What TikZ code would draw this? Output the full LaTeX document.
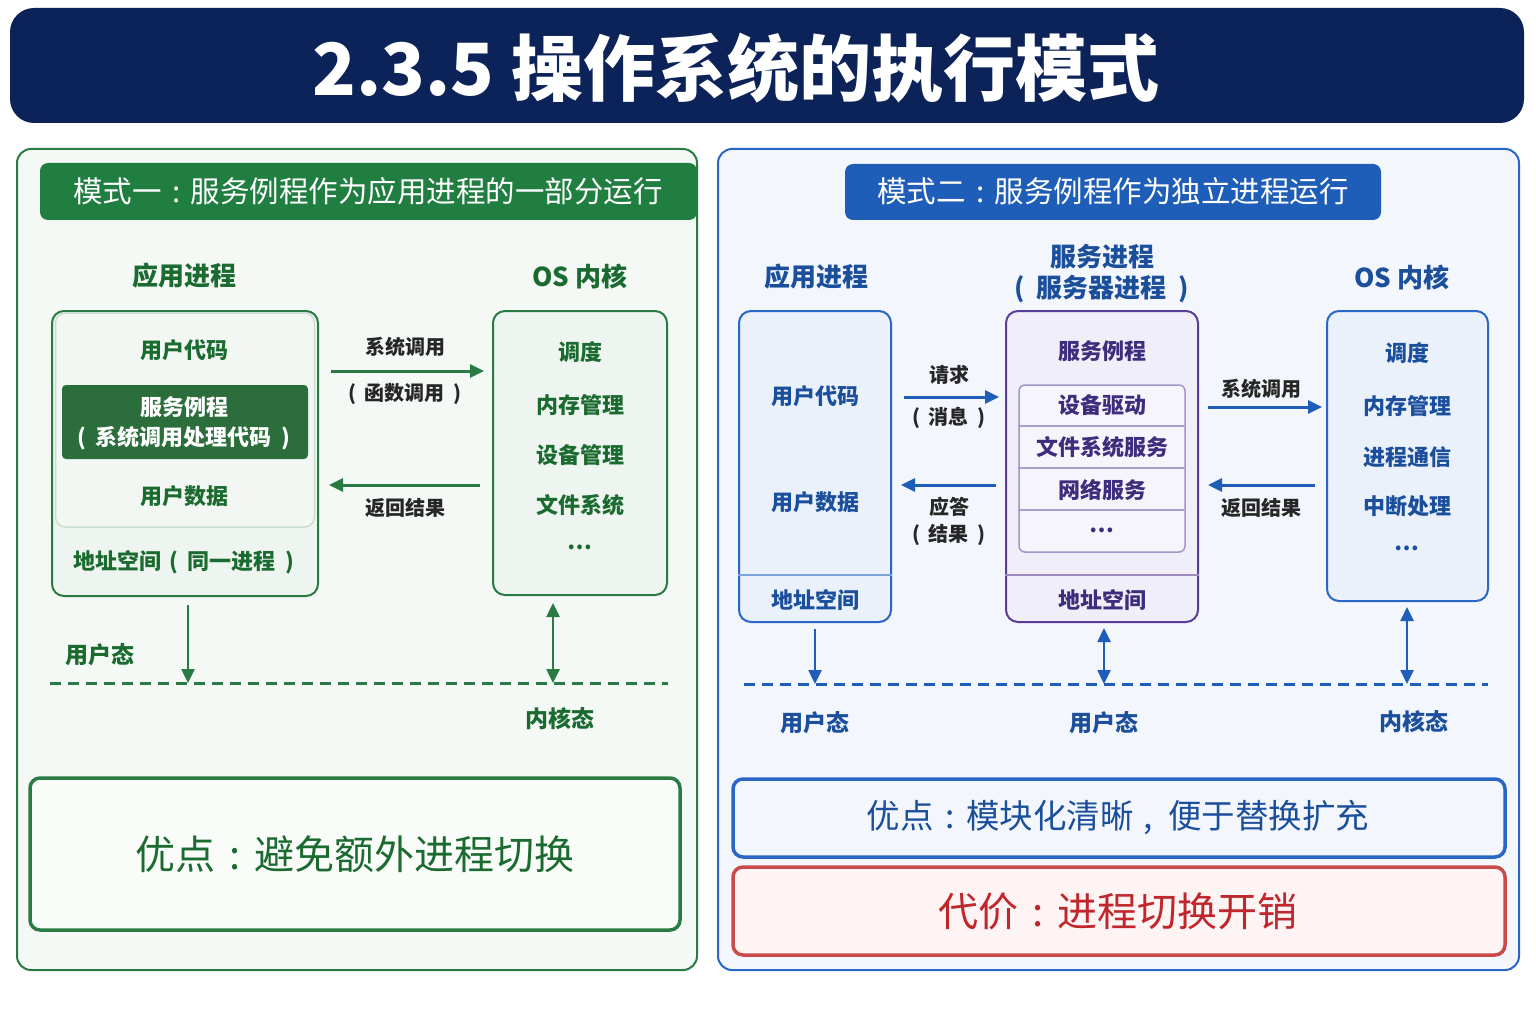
\documentclass[tikz,border=0pt]{standalone}
\usepackage{fontspec}
\setmainfont{Noto Sans CJK SC}
\usetikzlibrary{arrows.meta,calc}
\definecolor{navy}{HTML}{0B2358}
\definecolor{ghdr}{HTML}{1F7E40}
\definecolor{gtxt}{HTML}{1B6B30}
\definecolor{gbrd}{HTML}{2A7A43}
\definecolor{gdark}{HTML}{2B6E3B}
\definecolor{gfill}{HTML}{F4F9F6}
\definecolor{gbox}{HTML}{EEF5F0}
\definecolor{bbrd}{HTML}{2A66C5}
\definecolor{bhdr}{HTML}{1E5DB8}
\definecolor{btxt}{HTML}{1B4F9C}
\definecolor{bfill}{HTML}{F3F7FD}
\definecolor{bbox}{HTML}{EAF1FB}
\definecolor{pbrd}{HTML}{5A3C9A}
\definecolor{pfill}{HTML}{F0EEF8}
\definecolor{ptxt}{HTML}{3E2C7C}
\definecolor{rbrd}{HTML}{C84A4A}
\definecolor{rfill}{HTML}{FFF4F4}
\definecolor{rtxt}{HTML}{C0272D}
\newcommand\fsz[1]{\fontsize{#1}{#1}\selectfont}
\newcommand\cln{\hspace{0.35em}:\hspace{0.35em}}
\newcommand\cma{\hspace{0.3em},\hspace{0.45em}}
\newcommand\lpar{(\hspace{0.45em}}
\newcommand\rpar{\hspace{0.45em})}
\begin{document}
\begin{tikzpicture}[x=1pt,y=-1pt,
  panel/.style={rounded corners=14pt, line width=2pt},
  hdr/.style={rounded corners=8pt, text=white, inner sep=0pt},
  head/.style={font=\fsz{26}\bfseries, inner sep=0pt},
  item/.style={font=\fsz{22}\bfseries, inner sep=0pt},
  lbl/.style={font=\fsz{20}\bfseries, inner sep=0pt, text=black!85},
  boxs/.style={rounded corners=12pt, line width=2pt, inner sep=0pt},
  arr/.style={-{Triangle[length=14pt,width=13pt]}, line width=3pt},
  darr/.style={{Triangle[length=14pt,width=13pt]}-{Triangle[length=14pt,width=13pt]}, line width=2.5pt},
  dsh/.style={line width=3pt, dash pattern=on 11pt off 7pt},
  good/.style={rounded corners=10pt, line width=3.5pt, inner sep=0pt}]
\useasboundingbox (0,0) rectangle (1536,1024);
\fill[white] (0,0) rectangle (1536,1024);

% title
\node[fill=navy, rounded corners=24pt, minimum width=1514pt, minimum height=115pt, inner sep=0pt] (titlebar) at (767,65.5) {};
\node[text=white, font=\fsz{72}\bfseries, inner sep=0pt] (title) at (736,68) {2.3.5 操作系统的执行模式};

% ===== left panel =====
\node[panel, draw=gbrd, fill=gfill, minimum width=680pt, minimum height=821pt] (lp) at (357,559.5) {};
\node[hdr, fill=ghdr, minimum width=657pt, minimum height=57pt] (lh) at (368.5,191.5) {};
\node[text=white, font=\fsz{29.5}, inner sep=0pt] (lht) at (368,191) {模式一\cln 服务例程作为应用进程的一部分运行};

\node[head, text=gtxt] (lapp) at (184,276) {应用进程};
\node[head, text=gtxt] (los) at (580,276) {OS 内核};

\node[boxs, draw=gbrd, fill=gbox, minimum width=266pt, minimum height=285pt] (app1) at (185,453.5) {};
\node[rounded corners=10pt, draw=gbrd!25, line width=1.5pt, fill=gfill!60!gbox, minimum width=259pt, minimum height=214pt, inner sep=0pt] (app1u) at (185,420) {};
\node[item, text=gtxt] (ucode1) at (184,350) {用户代码};
\node[rounded corners=4pt, fill=gdark, minimum width=246pt, minimum height=74pt, inner sep=0pt] (svc1) at (185,422) {};
\node[item, text=white] (svc1a) at (184,407) {服务例程};
\node[item, text=white] (svc1b) at (184,438) {\lpar 系统调用处理代码\rpar};
\node[item, text=gtxt] (udata1) at (184,496) {用户数据};
\node[item, text=gtxt] (as1) at (184,562) {地址空间\hspace{0.35em}\lpar 同一进程\rpar};

\node[boxs, draw=gbrd, fill=gbox, minimum width=174pt, minimum height=284pt] (os1) at (580,453) {};
\node[item, text=gtxt] (o11) at (580,352) {调度};
\node[item, text=gtxt] (o12) at (580,405) {内存管理};
\node[item, text=gtxt] (o13) at (580,455) {设备管理};
\node[item, text=gtxt] (o14) at (580,505) {文件系统};
\node[item, text=gtxt] (o15) at (580,547) {…};

\coordinate (l1s) at (331,371); \coordinate (l1e) at (484,371);
\coordinate (l2s) at (480,485); \coordinate (l2e) at (329,485);
\draw[arr, gbrd] (l1s) -- (l1e);
\draw[arr, gbrd] (l2s) -- (l2e);
\node[lbl] (lsys) at (405,347) {系统调用};
\node[lbl] (lfun) at (405,394) {\lpar 函数调用\rpar};
\node[lbl] (lret) at (405,508) {返回结果};

\coordinate (ld1) at (188,683); \coordinate (ld2) at (553,683);
\draw[arr, gbrd, line width=2.5pt] ([yshift=-8pt]app1.south -| ld1) -- (ld1);
\draw[darr, gbrd] ([yshift=-7pt]os1.south -| ld2) -- (ld2);
\coordinate (lda) at (50,683); \coordinate (ldb) at (668,683);
\draw[dsh, gbrd] (lda) -- (ldb);
\node[head, text=gtxt, font=\fsz{23}\bfseries] (lu) at (100,655) {用户态};
\node[head, text=gtxt, font=\fsz{23}\bfseries] (lk) at (560,719) {内核态};

\node[good, draw=gbrd, fill=gfill!50!white, minimum width=650pt, minimum height=152pt] (lgood) at (355,854) {};
\node[text=gtxt, font=\fsz{40}, inner sep=0pt] (lgoodt) at (355,854) {优点\cln 避免额外进程切换};

% ===== right panel =====
\node[panel, draw=bbrd, fill=bfill, minimum width=801pt, minimum height=821pt] (rp) at (1118.5,559.5) {};
\node[hdr, fill=bhdr, minimum width=536pt, minimum height=56pt] (rh) at (1113,192) {};
\node[text=white, font=\fsz{29.5}, inner sep=0pt] (rht) at (1113,191) {模式二\cln 服务例程作为独立进程运行};

\node[head, text=btxt] (rapp) at (816,277) {应用进程};
\node[head, text=btxt] (rsv1) at (1102,257) {服务进程};
\node[head, text=btxt] (rsv2) at (1102,289) {\lpar 服务器进程\rpar};
\node[head, text=btxt] (ros) at (1402,277) {OS 内核};

% app box
\node[boxs, draw=bbrd, fill=bbox, minimum width=152pt, minimum height=311pt] (app2) at (815,466.5) {};
\draw[bbrd!60, line width=1.5pt] (app2.west |- 0,575) -- (app2.east |- 0,575);
\node[item, text=btxt] (ucode2) at (815,396) {用户代码};
\node[item, text=btxt] (udata2) at (815,502) {用户数据};
\node[item, text=btxt] (as2) at (815,600) {地址空间};

% service box
\node[boxs, draw=pbrd, fill=pfill, minimum width=192pt, minimum height=311pt] (svc2) at (1102,466.5) {};
\draw[pbrd!60, line width=1.5pt] (svc2.west |- 0,575) -- (svc2.east |- 0,575);
\node[item, text=ptxt] (sr) at (1102,351) {服务例程};
\node[rounded corners=6pt, draw=pbrd!55, line width=1.5pt, fill=pfill!60!white, minimum width=166pt, minimum height=167pt, inner sep=0pt] (inner) at (1102,468.5) {};
\draw[pbrd!50, line width=1.5pt] (inner.west |- 0,426) -- (inner.east |- 0,426);
\draw[pbrd!50, line width=1.5pt] (inner.west |- 0,468) -- (inner.east |- 0,468);
\draw[pbrd!50, line width=1.5pt] (inner.west |- 0,510) -- (inner.east |- 0,510);
\node[item, text=ptxt] (s1) at (1102,405) {设备驱动};
\node[item, text=ptxt] (s2) at (1102,447) {文件系统服务};
\node[item, text=ptxt] (s3) at (1102,490) {网络服务};
\node[item, text=ptxt] (s4) at (1102,530) {…};
\node[item, text=ptxt] (as3) at (1102,600) {地址空间};

% os box
\node[boxs, draw=bbrd, fill=bbox, minimum width=161pt, minimum height=290pt] (os2) at (1407.5,456) {};
\node[item, text=btxt] (o21) at (1407,353) {调度};
\node[item, text=btxt] (o22) at (1407,406) {内存管理};
\node[item, text=btxt] (o23) at (1407,457) {进程通信};
\node[item, text=btxt] (o24) at (1407,506) {中断处理};
\node[item, text=btxt] (o25) at (1407,548) {…};

% arrows
\coordinate (r1y) at (0,397); \coordinate (r2y) at (0,485);
\coordinate (r3y) at (0,407);
\draw[arr, bhdr] ([xshift=12pt]app2.east |- r1y) -- ([xshift=-6pt]svc2.west |- r1y);
\draw[arr, bhdr] ([xshift=-9pt]svc2.west |- r2y) -- ([xshift=9pt]app2.east |- r2y);
\draw[arr, bhdr] ([xshift=9pt]svc2.east |- r3y) -- ([xshift=-4pt]os2.west |- r3y);
\draw[arr, bhdr] ([xshift=-11pt]os2.west |- r2y) -- ([xshift=9pt]svc2.east |- r2y);
\node[lbl] (rq) at (949,375) {请求};
\node[lbl] (rm) at (949,418) {\lpar 消息\rpar};
\node[lbl] (ra) at (949,507) {应答};
\node[lbl] (rr) at (949,535) {\lpar 结果\rpar};
\node[lbl] (rs) at (1261,389) {系统调用};
\node[lbl] (rt) at (1261,508) {返回结果};

\coordinate (rd1) at (815,684); \coordinate (rd2) at (1104,684); \coordinate (rd3) at (1407,684);
\draw[arr, bhdr, line width=2.5pt] ([yshift=-6pt]app2.south -| rd1) -- (rd1);
\draw[darr, bhdr] ([yshift=-5pt]svc2.south -| rd2) -- (rd2);
\draw[darr, bhdr] ([yshift=-5pt]os2.south -| rd3) -- (rd3);
\coordinate (rda) at (744,684); \coordinate (rdb) at (1488,684);
\draw[dsh, bhdr] (rda) -- (rdb);
\node[head, text=btxt, font=\fsz{23}\bfseries] (ru1) at (815,723) {用户态};
\node[head, text=btxt, font=\fsz{23}\bfseries] (ru2) at (1104,723) {用户态};
\node[head, text=btxt, font=\fsz{23}\bfseries] (rk) at (1414,722) {内核态};

\node[good, draw=bbrd, fill=bfill, minimum width=772pt, minimum height=78pt] (rgood) at (1119,818) {};
\node[text=btxt, font=\fsz{33.5}, inner sep=0pt] (rgoodt) at (1118,818) {优点\cln 模块化清晰\cma 便于替换扩充};
\node[good, draw=rbrd, fill=rfill, minimum width=772pt, minimum height=88pt] (rcost) at (1119,911) {};
\node[text=rtxt, font=\fsz{40}, inner sep=0pt] (rcostt) at (1118,911) {代价\cln 进程切换开销};
\end{tikzpicture}
\end{document}
